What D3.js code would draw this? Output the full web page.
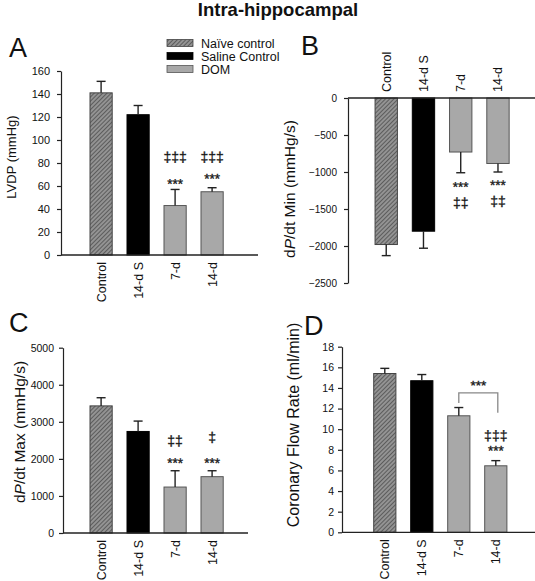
<!DOCTYPE html>
<html><head><meta charset="utf-8">
<script src="https://cdn.jsdelivr.net/npm/d3@7"></script>
<style>
body{margin:0;background:#fff;}
text{font-family:"Liberation Sans",Arial,sans-serif;fill:#111;}
</style></head>
<body><svg id="c" width="535" height="581"></svg>
<script>
const categories = ["Control","14-d S","7-d","14-d"];
const groups = ["naive","saline","dom","dom"];
const legendLabels = ["Naïve control","Saline Control","DOM"];

const lvdp = [141,122,43,55];
const lvdpErr = [10,8,14,3.5];
const lvdpTicks = [0,20,40,60,80,100,120,140,160];

const dpdtMin = [-1980,-1800,-730,-885];
const dpdtMinErr = [150,230,280,115];
const dpdtMinTicks = [0,-500,-1000,-1500,-2000,-2500];

const dpdtMax = [3430,2740,1240,1520];
const dpdtMaxErr = [220,280,440,160];
const dpdtMaxTicks = [0,1000,2000,3000,4000,5000];

const cfr = [15.4,14.7,11.3,6.45];
const cfrErr = [0.5,0.6,0.8,0.5];
const cfrTicks = [0,2,4,6,8,10,12,14,16,18];

// significance marks: [category, text, data-value of mark centre]
const lvdpMarks = [["7-d","‡‡‡",84.3],["7-d","***",64.3],["14-d","‡‡‡",84.3],["14-d","***",69]];
const dpdtMinMarks = [["7-d","***",-1162],["7-d","‡‡",-1432],["14-d","***",-1140],["14-d","‡‡",-1410]];
const dpdtMaxMarks = [["7-d","‡‡",2458],["7-d","***",1966],["14-d","‡",2550],["14-d","***",1966]];
const cfrMarks = [["14-d","‡‡‡",9.27],["14-d","***",8.2]];
const cfrBracket = {from:"7-d", to:"14-d", top:13.53, leftEnd:12.53, rightEnd:11.6, label:"***", labelY:14.57};

const svg = d3.select("#c");
const defs = svg.append("defs");
const pat = defs.append("pattern").attr("id","hatch").attr("patternUnits","userSpaceOnUse")
  .attr("width",3).attr("height",3).attr("patternTransform","rotate(45)");
pat.append("rect").attr("width",3).attr("height",3).attr("fill","#939393");
pat.append("line").attr("x1",0).attr("y1",0).attr("x2",0).attr("y2",3).attr("stroke","#4a4a4a").attr("stroke-width",1.5);

const fills = {naive:"url(#hatch)", saline:"#000", dom:"#a8a8a8"};
const strokes = {naive:"#444", saline:"#000", dom:"#555"};

svg.append("text").attr("x",278).attr("y",16).attr("text-anchor","middle")
  .attr("font-size",18.5).attr("font-weight","bold").text("Intra-hippocampal");

const leg = svg.append("g");
legendLabels.forEach((l,i)=>{
  const key = ["naive","saline","dom"][i];
  const cy = [43,56,69][i];
  leg.append("rect").attr("x",167).attr("y",cy-3.5).attr("width",26).attr("height",7)
    .attr("fill",fills[key]).attr("stroke",strokes[key]).attr("stroke-width",0.8);
  leg.append("text").attr("x",201).attr("y",cy+4.5).attr("font-size",12.5).text(l);
});

function panel(o){
  const g = svg.append("g");
  const y = d3.scaleLinear().domain(o.domain).range(o.yRange);
  const x = d3.scaleBand().domain(categories).range(o.xRange).paddingInner(0.4).paddingOuter(0.2);
  const zero = y(0);
  const ya = g.append("g").attr("transform",`translate(${o.axisX},0)`)
    .call(d3.axisLeft(y).tickValues(o.ticks).tickSize(4).tickSizeOuter(0).tickPadding(o.tickPad).tickFormat(d3.format("d")));
  ya.selectAll("text").attr("font-size",o.tickFont).attr("fill","#222").style("font-family","Liberation Sans, Arial");
  ya.selectAll("line,path").attr("stroke","#222").attr("stroke-width",1.2);
  categories.forEach((c,i)=>{
    const v = o.values[i], e = o.errs[i];
    const top = Math.min(y(v),zero), h = Math.abs(y(v)-zero);
    g.append("rect").attr("x",x(c)).attr("y",top).attr("width",x.bandwidth()).attr("height",h)
      .attr("fill",fills[groups[i]]).attr("stroke",strokes[groups[i]]).attr("stroke-width",1);
    const cx = x(c)+x.bandwidth()/2;
    const ve = v>=0 ? v+e : v-e;
    g.append("line").attr("x1",cx).attr("x2",cx).attr("y1",y(v)).attr("y2",y(ve)).attr("stroke","#222").attr("stroke-width",1.4);
    g.append("line").attr("x1",cx-4.5).attr("x2",cx+4.5).attr("y1",y(ve)).attr("y2",y(ve)).attr("stroke","#222").attr("stroke-width",1.4);
  });
  g.append("line").attr("x1",o.axisX).attr("x2",o.axisEnd).attr("y1",zero).attr("y2",zero).attr("stroke","#222").attr("stroke-width",1.3);
  categories.forEach(c=>{
    const cx = x(c)+x.bandwidth()/2;
    const ly = o.labelsTop ? zero-6 : zero+7;
    g.append("text").attr("transform",`translate(${cx},${ly}) rotate(-90)`)
      .attr("text-anchor",o.labelsTop?"start":"end").attr("dy","0.36em")
      .attr("font-size",12.5).attr("fill","#222").text(c);
  });
  const t = g.append("text").attr("transform",`translate(${o.titleX},${o.titleY}) rotate(-90)`)
    .attr("text-anchor","middle").attr("font-size",o.titleFont).attr("fill","#222");
  o.title.forEach(p=>{ t.append("tspan").attr("font-style",p[1]?"italic":"normal").text(p[0]); });
  g.append("text").attr("x",o.letterX).attr("y",o.letterY).attr("font-size",27).text(o.letter);
  const mg = g.append("g");
  const byCat = d3.group(o.marks, m=>m[0]);
  byCat.forEach((ms,c)=>{
    const cx = x(c)+x.bandwidth()/2;
    const cy = y(ms[0][2]);
    const txt = mg.append("text").attr("text-anchor","middle").attr("fill","#222")
      .attr("stroke","#222").attr("stroke-width",0.35)
      .attr("transform",`rotate(0.05,${cx},${cy})`);
    ms.forEach(m=>{
      const star = m[1].startsWith("*");
      txt.append("tspan").attr("x",cx).attr("y",y(m[2]) + (star?7.5:3.6))
        .attr("font-size",star?13.5:14).text(m[1]);
    });
  });
  if(o.bracket){
    const b=o.bracket;
    const x1 = x(b.from)+x.bandwidth()/2, x2 = x(b.to)+x.bandwidth()/2+2;
    g.append("path").attr("d",`M${x1},${y(b.leftEnd)}V${y(b.top)}H${x2}V${y(b.rightEnd)}`)
      .attr("fill","none").attr("stroke","#888").attr("stroke-width",1.3);
    mg.append("text").attr("x",(x1+x2)/2).attr("y",y(b.labelY)+7.5).attr("text-anchor","middle")
      .attr("font-size",13.5).attr("fill","#222").attr("stroke","#222").attr("stroke-width",0.35).text(b.label);
  }
}

panel({letter:"A",letterX:9,letterY:57,domain:[0,160],yRange:[255,71],ticks:lvdpTicks,axisX:61,axisEnd:258,
  xRange:[82.6,230.6],values:lvdp,errs:lvdpErr,tickPad:7,tickFont:11,
  title:[["LVDP (mmHg)",false]],titleX:16,titleY:157,titleFont:13,marks:lvdpMarks});
panel({letter:"B",letterX:301,letterY:55,domain:[-2500,0],yRange:[283,98],ticks:dpdtMinTicks,axisX:348,axisEnd:535,
  xRange:[367.6,516.6],values:dpdtMin,errs:dpdtMinErr,tickPad:7,tickFont:10,labelsTop:true,
  title:[["d",false],["P",true],["/dt Min (mmHg/s)",false]],titleX:295,titleY:189,titleFont:15.5,marks:dpdtMinMarks});
panel({letter:"C",letterX:9,letterY:332,domain:[0,5000],yRange:[533,347.7],ticks:dpdtMaxTicks,axisX:63,axisEnd:248,
  xRange:[82.6,230.6],values:dpdtMax,errs:dpdtMaxErr,tickPad:5,tickFont:10.5,
  title:[["d",false],["P",true],["/dt Max (mmHg/s)",false]],titleX:25,titleY:432,titleFont:15.5,marks:dpdtMaxMarks});
panel({letter:"D",letterX:304,letterY:335,domain:[0,18],yRange:[532.3,346.7],ticks:cfrTicks,axisX:342,axisEnd:535,
  xRange:[366.3,514.3],values:cfr,errs:cfrErr,tickPad:4,tickFont:10.5,
  title:[["Coronary Flow Rate (ml/min)",false]],titleX:299,titleY:425,titleFont:16,marks:cfrMarks,bracket:cfrBracket});
</script></body></html>
